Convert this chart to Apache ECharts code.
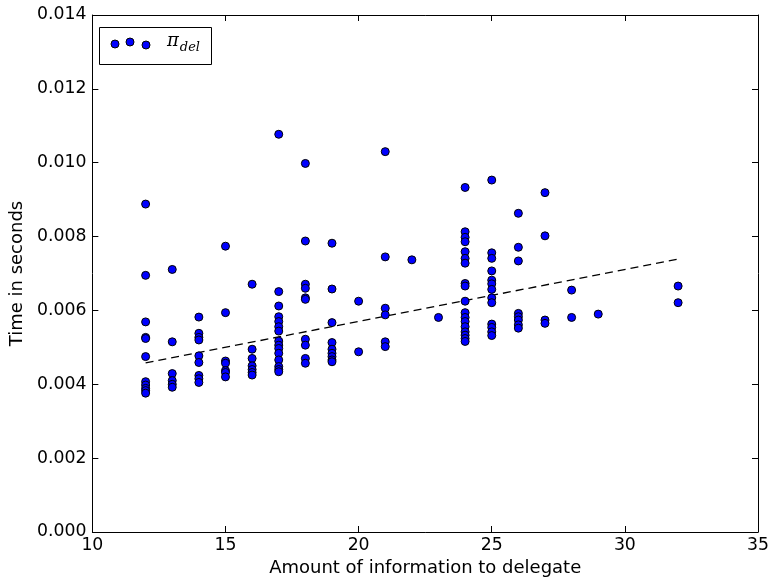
<!DOCTYPE html>
<html>
<head>
<meta charset="utf-8">
<script src="https://cdn.jsdelivr.net/npm/echarts@6/dist/echarts.min.js"></script>
<style>
html,body{margin:0;padding:0;background:#fff;}
#chart{width:773px;height:584px;}
</style>
</head>
<body>
<div id="chart"></div>
<script>
// Amount of information (x) per column and time values (y)
const xValues = [12, 13, 14, 15, 16, 17, 18, 19, 20, 21, 22, 23, 24, 25, 26, 27, 28, 29, 32];
const col12 = [0.00888, 0.00695, 0.00569, 0.00527, 0.00524, 0.00475, 0.00407, 0.00398, 0.00389, 0.00383, 0.00376];
const col13 = [0.00711, 0.00515, 0.00429, 0.00410, 0.00400, 0.00392];
const col14 = [0.00582, 0.00538, 0.00527, 0.00520, 0.00477, 0.00459, 0.00424, 0.00415, 0.00405];
const col15 = [0.00774, 0.00594, 0.00463, 0.00457, 0.00437, 0.00432, 0.00420];
const col16 = [0.00671, 0.00495, 0.00470, 0.00450, 0.00440, 0.00432, 0.00425];
const col17 = [0.01077, 0.00651, 0.00612, 0.00583, 0.00570, 0.00556, 0.00544, 0.00517, 0.00506, 0.00497, 0.00484, 0.00466, 0.00448, 0.00440, 0.00434];
const col18 = [0.00998, 0.00788, 0.00671, 0.00660, 0.00634, 0.00630, 0.00522, 0.00506, 0.00470, 0.00457];
const col19 = [0.00782, 0.00658, 0.00567, 0.00513, 0.00495, 0.00484, 0.00475, 0.00466, 0.00461];
const col20 = [0.00625, 0.00488];
const col21 = [0.01030, 0.00745, 0.00606, 0.00588, 0.00515, 0.00502];
const col22 = [0.00737];
const col23 = [0.00581];
const col24 = [0.00933, 0.00813, 0.00798, 0.00786, 0.00759, 0.00741, 0.00728, 0.00673, 0.00666, 0.00625, 0.00594, 0.00581, 0.00570, 0.00556, 0.00542, 0.00533, 0.00524, 0.00516];
const col25 = [0.00953, 0.00756, 0.00741, 0.00707, 0.00682, 0.00672, 0.00657, 0.00634, 0.00621, 0.00563, 0.00554, 0.00542, 0.00532];
const col26 = [0.00863, 0.00771, 0.00734, 0.00592, 0.00583, 0.00574, 0.00561, 0.00552];
const col27 = [0.00919, 0.00802, 0.00574, 0.00565];
const col28 = [0.00655, 0.00581];
const col29 = [0.00590];
const col32 = [0.00666, 0.00621];
const columns = [col12, col13, col14, col15, col16, col17, col18, col19, col20, col21, col22, col23, col24, col25, col26, col27, col28, col29, col32];

// Trend line endpoints
const trendX = [12, 32];
const trendY = [0.00458, 0.00739];

// Tick labels
const xTicks = [10, 15, 20, 25, 30, 35];
const yTicks = [0.000, 0.002, 0.004, 0.006, 0.008, 0.010, 0.012, 0.014];

const scatterData = [];
xValues.forEach((x, i) => columns[i].forEach(v => scatterData.push([x, v])));
const trendData = trendX.map((x, i) => [x, trendY[i]]);

const FONT = 'DejaVu Sans';
const FS = 17.3;
const NFS = 18;

const chart = echarts.init(document.getElementById('chart'), null, {renderer: 'canvas'});

const axisCommon = {
  axisLine: {show: true, onZero: false, lineStyle: {color: '#000', width: 1}},
  axisTick: {show: true, inside: true, length: 6, lineStyle: {color: '#000'}},
  splitLine: {show: false}
};

chart.setOption({
  animation: false,
  backgroundColor: '#fff',
  grid: {left: 89, right: 15, top: 15, bottom: 52, containLabel: false},
  xAxis: [
    Object.assign({
      type: 'value', min: xTicks[0], max: xTicks[xTicks.length - 1], interval: 5, position: 'bottom',
      name: 'Amount of information to delegate', nameLocation: 'middle', nameGap: 26,
      nameTextStyle: {fontFamily: FONT, fontSize: NFS, color: '#000'},
      axisLabel: {fontFamily: FONT, fontSize: FS, color: '#000', margin: 5}
    }, axisCommon),
    Object.assign({
      type: 'value', min: xTicks[0], max: xTicks[xTicks.length - 1], interval: 5, position: 'top',
      axisLabel: {show: false}
    }, axisCommon)
  ],
  yAxis: [
    Object.assign({
      type: 'value', min: yTicks[0], max: yTicks[yTicks.length - 1], interval: 0.002, position: 'left',
      name: 'Time in seconds', nameLocation: 'middle', nameGap: 56, nameRotate: 90,
      nameTextStyle: {fontFamily: FONT, fontSize: NFS, color: '#000'},
      axisLabel: {fontFamily: FONT, fontSize: FS, color: '#000', margin: 6,
        formatter: v => v.toFixed(3)}
    }, axisCommon),
    Object.assign({
      type: 'value', min: yTicks[0], max: yTicks[yTicks.length - 1], interval: 0.002, position: 'right',
      axisLabel: {show: false}
    }, axisCommon)
  ],
  series: [
    {
      type: 'line', data: trendData, symbol: 'none', silent: true,
      lineStyle: {color: '#000', width: 1.3, type: [8, 5]}, z: 2
    },
    {
      type: 'scatter', data: scatterData, symbol: 'circle', symbolSize: 8,
      itemStyle: {color: '#0000ff', borderColor: '#000', borderWidth: 1, opacity: 1}, z: 3
    }
  ],
  graphic: [
    {type: 'rect', left: 99, top: 27, shape: {width: 112, height: 37},
      style: {fill: '#fff', stroke: '#000', lineWidth: 1}, z: 10},
    {type: 'circle', shape: {cx: 115, cy: 44, r: 4}, style: {fill: '#0000ff', stroke: '#000', lineWidth: 1}, z: 11},
    {type: 'circle', shape: {cx: 130, cy: 42, r: 4}, style: {fill: '#0000ff', stroke: '#000', lineWidth: 1}, z: 11},
    {type: 'circle', shape: {cx: 146, cy: 45, r: 4}, style: {fill: '#0000ff', stroke: '#000', lineWidth: 1}, z: 11},
    {type: 'text', left: 167, top: 32, z: 11,
      style: {
        text: '{p|π}{s|del}',
        rich: {
          p: {fontFamily: 'DejaVu Serif', fontStyle: 'italic', fontSize: 18, fill: '#000', verticalAlign: 'top'},
          s: {fontFamily: 'DejaVu Serif', fontStyle: 'italic', fontSize: 13, fill: '#000', padding: [9, 0, 0, 1]}
        }
      }}
  ]
});
</script>
</body>
</html>
